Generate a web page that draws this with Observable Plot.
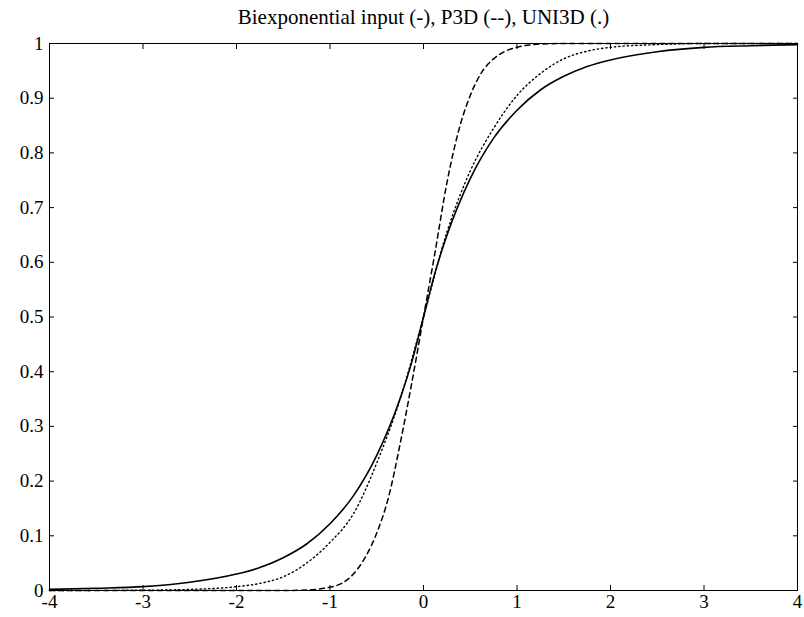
<!DOCTYPE html>
<html>
<head>
<meta charset="utf-8">
<script src="https://cdn.jsdelivr.net/npm/d3@7"></script>
<script src="https://cdn.jsdelivr.net/npm/@observablehq/plot@0.6"></script>
<style>
  body { margin: 0; background: #fff; }
  svg { display: block; }
</style>
</head>
<body>
<div id="chart"></div>
<script>
const titleText = "Biexponential input (-), P3D (--), UNI3D (.)";
const xTicks = [-4, -3, -2, -1, 0, 1, 2, 3, 4];
const yTicks = [0, 0.1, 0.2, 0.3, 0.4, 0.5, 0.6, 0.7, 0.8, 0.9, 1];

// Biexponential input (solid)
const biexpX = [-4, -3.5, -3, -2.5, -2, -1.75, -1.5, -1.25, -1, -0.75, -0.5, -0.25, -0.125, 0, 0.125, 0.25, 0.5, 0.75, 1, 1.25, 1.5, 1.75, 2, 2.5, 3, 3.5, 4];
const biexpY = [0.002, 0.004, 0.007, 0.015, 0.030, 0.042, 0.060, 0.085, 0.122, 0.173, 0.247, 0.351, 0.418, 0.5, 0.582, 0.649, 0.753, 0.827, 0.878, 0.915, 0.940, 0.958, 0.970, 0.985, 0.993, 0.996, 0.998];

// P3D (dashed)
const p3dX = [-4, -1.5, -1.25, -1, -0.875, -0.75, -0.625, -0.5, -0.375, -0.25, -0.125, 0, 0.125, 0.25, 0.375, 0.5, 0.625, 0.75, 0.875, 1, 1.25, 1.5, 4];
const p3dY = [0, 0, 0.001, 0.006, 0.013, 0.030, 0.060, 0.105, 0.170, 0.268, 0.380, 0.5, 0.62, 0.745, 0.84, 0.905, 0.948, 0.972, 0.986, 0.993, 0.999, 1, 1];

// UNI3D (dotted)
const uniX = [-4, -3, -2.5, -2, -1.75, -1.5, -1.25, -1, -0.75, -0.5, -0.25, 0, 0.25, 0.5, 0.75, 1, 1.25, 1.5, 1.75, 2, 2.5, 3, 4];
const uniY = [0, 0.0005, 0.002, 0.007, 0.013, 0.025, 0.050, 0.088, 0.140, 0.233, 0.350, 0.5, 0.655, 0.767, 0.845, 0.905, 0.945, 0.972, 0.986, 0.993, 0.998, 1, 1];

const toRows = (xs, ys) => xs.map((x, i) => ({x, y: ys[i]}));
const biexp = toRows(biexpX, biexpY);
const p3d = toRows(p3dX, p3dY);
const uni = toRows(uniX, uniY);

const font = "'Liberation Serif', 'DejaVu Serif', serif";

const chart = Plot.plot({
  width: 804,
  height: 617,
  marginLeft: 49,
  marginRight: 7,
  marginTop: 43,
  marginBottom: 27,
  style: {fontFamily: font, fontSize: "19px", background: "white", color: "black"},
  x: {domain: [-4, 4]},
  y: {domain: [0, 1]},
  marks: [
    Plot.frame({stroke: "black", strokeWidth: 1}),
    // tick labels
    Plot.axisX({anchor: "bottom", ticks: xTicks, tickSize: 0, tickPadding: 4, label: null, tickFormat: d => String(d), fontSize: 19}),
    Plot.axisY({anchor: "left", ticks: yTicks, tickSize: 0, tickPadding: 6, label: null, tickFormat: d => String(d), fontSize: 19}),
    // inward ticks on all sides
    Plot.axisX({anchor: "bottom", ticks: xTicks, tickSize: -5, text: null, label: null}),
    Plot.axisX({anchor: "top", ticks: xTicks, tickSize: -5, text: null, label: null}),
    Plot.axisY({anchor: "left", ticks: yTicks, tickSize: -5, text: null, label: null}),
    Plot.axisY({anchor: "right", ticks: yTicks, tickSize: -5, text: null, label: null}),
    Plot.line(uni, {x: "x", y: "y", curve: "monotone-x", stroke: "black", strokeWidth: 1.4, strokeDasharray: "1.3,3", strokeLinecap: "round"}),
    Plot.line(p3d, {x: "x", y: "y", curve: "monotone-x", stroke: "black", strokeWidth: 1.5, strokeDasharray: "5,4"}),
    Plot.line(biexp, {x: "x", y: "y", curve: "monotone-x", stroke: "black", strokeWidth: 1.6}),
    Plot.text([titleText], {frameAnchor: "top", dy: -34, text: d => d, fontSize: 21, fill: "black"})
  ]
});
document.getElementById("chart").appendChild(chart);
</script>
</body>
</html>
